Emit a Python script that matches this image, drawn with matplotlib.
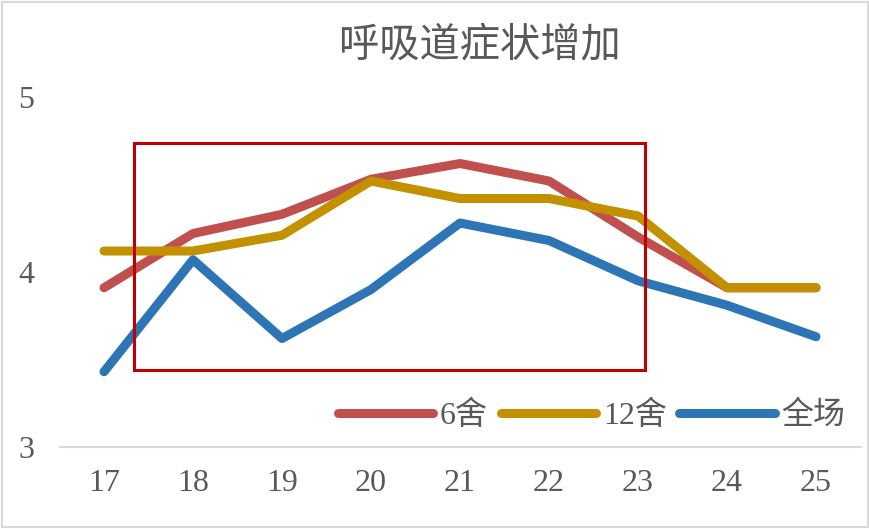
import matplotlib as mpl
mpl.use('Agg')
import matplotlib.pyplot as plt
from matplotlib.patches import Rectangle

plt.rcParams['font.family'] = ['Liberation Serif', 'Noto Sans CJK SC']

weeks = [17, 18, 19, 20, 21, 22, 23, 24, 25]
house6 = [3.91, 4.22, 4.33, 4.53, 4.62, 4.52, 4.20, 3.91, 3.91]
house12 = [4.12, 4.12, 4.21, 4.52, 4.42, 4.42, 4.32, 3.91, 3.91]
whole = [3.43, 4.07, 3.62, 3.90, 4.28, 4.18, 3.95, 3.81, 3.63]
names = ['6舍', '12舍', '全场']
colors = ['#C0504D', '#C39100', '#2E75B6']

fig = plt.figure(figsize=(8.7, 5.29), dpi=100)
ax = fig.add_axes([0.0684, 0.155, 0.9207, 0.6616])

for vals, name, c in zip([house6, house12, whole], names, colors):
    ax.plot(weeks, vals, color=c, lw=6.5, solid_capstyle='round',
            solid_joinstyle='round', label=name)

# highlight box
ax.add_patch(Rectangle((17.34, 3.44), 5.74, 1.297, fill=False,
                       edgecolor='#C00000', lw=2.2, zorder=5))

ax.set_xlim(16.5, 25.5)
ax.set_ylim(3, 5)
ax.set_xticks(weeks)
ax.set_yticks([3, 4, 5])
ax.tick_params(length=0, labelsize=23, labelcolor='#595959')
ax.tick_params(axis='x', pad=16)
ax.tick_params(axis='y', pad=18)
for s in ['top', 'right', 'left']:
    ax.spines[s].set_visible(False)
ax.spines['bottom'].set_color('#D9D9D9')
ax.spines['bottom'].set_linewidth(1.5)
ax.patch.set_alpha(0)

fig.text(0.552, 0.916, '呼吸道症状增加', ha='center', va='center',
         fontsize=29, color='#595959', family=['Noto Sans CJK SC'])

leg = ax.legend(loc='center', bbox_to_anchor=(0.68, 0.214),
                bbox_transform=fig.transFigure, ncol=3, frameon=False,
                fontsize=23, handlelength=3.0, handletextpad=0.2,
                columnspacing=0.4, labelcolor='#595959')

fig.patches.append(Rectangle((0.002, 0.003), 0.996, 0.994, fill=False,
                             edgecolor='#D9D9D9', lw=1.5,
                             transform=fig.transFigure))

fig.savefig('out.png', dpi=100)
